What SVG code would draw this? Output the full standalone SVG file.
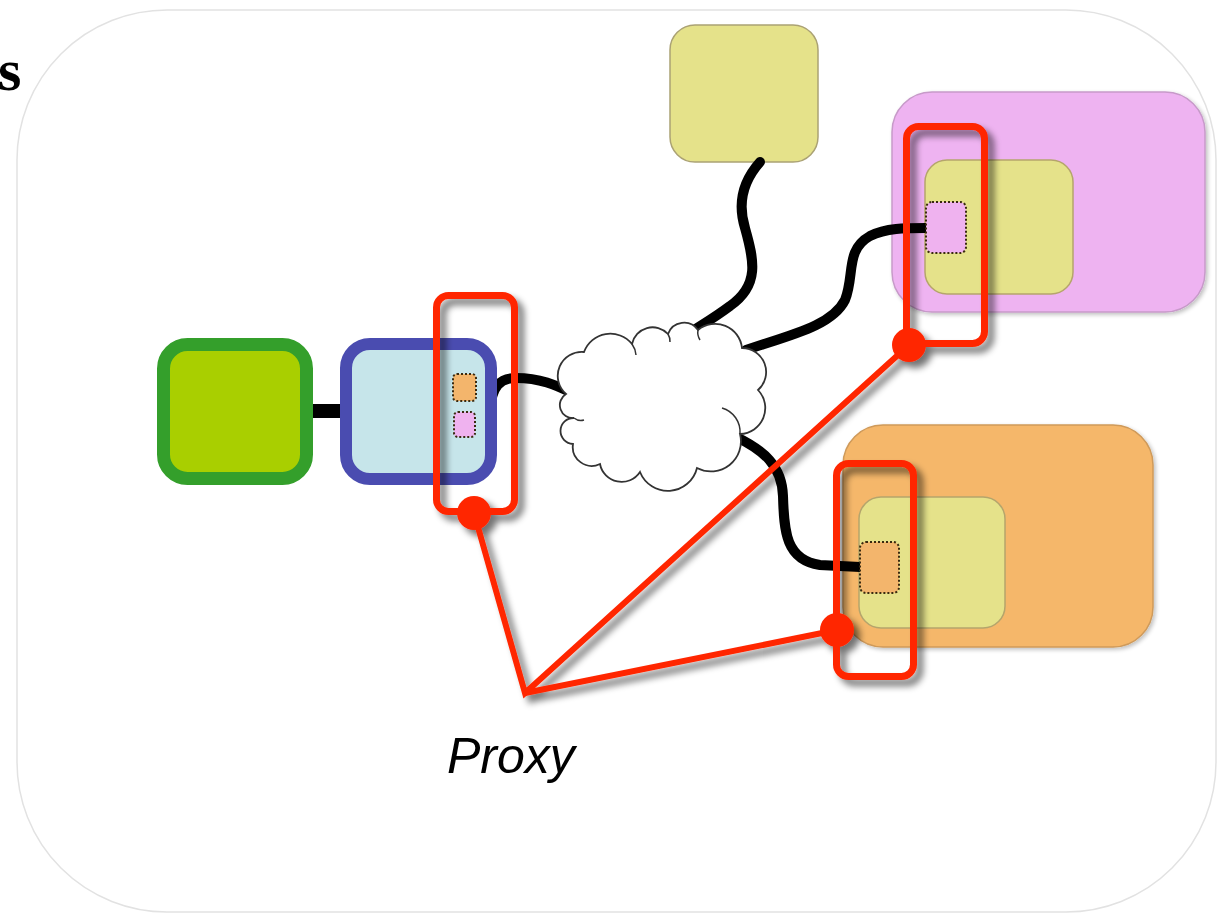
<svg xmlns="http://www.w3.org/2000/svg" width="1223" height="914" viewBox="0 0 1223 914">
  <defs>
    <filter id="redShadow" x="-20%" y="-20%" width="150%" height="150%">
      <feGaussianBlur in="SourceAlpha" stdDeviation="3.5"/>
      <feOffset dx="6" dy="6" result="b"/>
      <feComponentTransfer><feFuncA type="linear" slope="0.55"/></feComponentTransfer>
      <feMerge><feMergeNode/><feMergeNode in="SourceGraphic"/></feMerge>
    </filter>
    <filter id="softShadow" x="-10%" y="-10%" width="130%" height="130%">
      <feGaussianBlur in="SourceAlpha" stdDeviation="2"/>
      <feOffset dx="2" dy="2" result="b"/>
      <feComponentTransfer><feFuncA type="linear" slope="0.25"/></feComponentTransfer>
      <feMerge><feMergeNode/><feMergeNode in="SourceGraphic"/></feMerge>
    </filter>
  </defs>
  <style>
    .wire { fill: none; stroke: #000; stroke-width: 10; stroke-linecap: round; }
    .proxy { fill: none; stroke: #ff2600; stroke-width: 7; }
    .dot { fill: #ff2600; }
    .port { stroke: #3a2a10; stroke-width: 2; stroke-dasharray: 2 2; }
    .inner { fill: #e5e28a; stroke: #b5a56c; stroke-width: 1.5; }
  </style>

  <rect width="1223" height="914" fill="#fff"/>

  <!-- background panel -->
  <rect id="panel" x="17" y="10" width="1199" height="902" rx="150" fill="#fff" stroke="#e2e2e2" stroke-width="1.5"/>

  <!-- clipped title letter -->
  <text x="-2" y="90" font-family="Liberation Serif, serif" font-weight="bold" font-size="60" fill="#000">s</text>

  <!-- remote hosts -->
  <g id="host-pink" filter="url(#softShadow)">
    <rect x="892" y="92" width="313" height="220" rx="40" fill="#eeb3f1" stroke="#c79ac9" stroke-width="1.5"/>
    <rect class="inner" x="925" y="160" width="148" height="134" rx="22"/>
  </g>
  <g id="host-orange" filter="url(#softShadow)">
    <rect x="843" y="425" width="310" height="222" rx="40" fill="#f5b76a" stroke="#cf9a5a" stroke-width="1.5"/>
    <rect class="inner" x="859" y="497" width="146" height="131" rx="22"/>
  </g>
  <g id="node-top">
    <rect x="670" y="25" width="148" height="137" rx="25" fill="#e5e28a" stroke="#aba274" stroke-width="1.5"/>
  </g>

  <!-- connectors -->
  <g id="connectors">
    <line x1="310" y1="411" x2="344" y2="411" stroke="#000" stroke-width="14"/>
    <path class="wire" d="M490,410 C492,386 500,378 516,378 C540,378 556,385 572,393"/>
    <path class="wire" d="M760,162 C744,180 737,202 745,228 C754,260 760,285 730,306 C714,318 700,326 688,334"/>
    <path class="wire" d="M746,350 C790,335 832,326 845,300 C855,275 845,250 870,236 C886,228 905,228 926,228"/>
    <path class="wire" d="M734,436 C764,450 782,466 783,496 C784,532 786,560 820,565 L860,567"/>
  </g>

  <!-- local stack -->
  <g id="node-green">
    <rect x="163.5" y="344.5" width="143" height="134" rx="24" fill="#a9cf00" stroke="#349f2b" stroke-width="13"/>
  </g>
  <g id="node-blue">
    <rect x="346" y="344" width="145" height="135" rx="24" fill="#c6e5ea" stroke="#4a4cb0" stroke-width="12"/>
    <rect class="port" x="453" y="374" width="23" height="27" rx="4" fill="#f3b56c"/>
    <rect class="port" x="454" y="412" width="21" height="25" rx="4" fill="#efb2ef"/>
  </g>

  <!-- network cloud -->
  <g id="cloud">
    <path d="M566,394 A24,24 0 0 1 584,352 A28,28 0 0 1 632,344 A21,21 0 0 1 668,334 A17,17 0 0 1 698,330 A27,27 0 0 1 742,348 A24,24 0 0 1 758,390 A26,26 0 0 1 740,434 A30,30 0 0 1 697,468 A30,30 0 0 1 640,472 A22,22 0 0 1 600,464 A19,19 0 0 1 573,444 A13,13 0 0 1 574,418 A13,13 0 0 1 566,394 Z" fill="#fff" stroke="#333" stroke-width="1.8"/>
    <path d="M574,418 A11,11 0 0 0 584,420 M632,344 A22,22 0 0 1 636,355 M668,334 A14,14 0 0 1 670,342 M698,330 A14,14 0 0 0 700,340 M722,408 A25,25 0 0 1 740,434" fill="none" stroke="#333" stroke-width="1.5"/>
  </g>

  <!-- remote ports -->
  <g id="port-pink">
    <rect class="port" x="926" y="202" width="40" height="51" rx="6" fill="#efb2ef"/>
  </g>
  <g id="port-orange">
    <rect class="port" x="860" y="542" width="39" height="51" rx="6" fill="#f3b56c"/>
  </g>

  <!-- proxy highlights -->
  <g id="proxy" filter="url(#redShadow)">
    <rect class="proxy" x="436.5" y="295.5" width="78" height="216" rx="12"/>
    <rect class="proxy" x="906.5" y="126.5" width="78" height="217" rx="12"/>
    <rect class="proxy" x="836.5" y="463.5" width="77" height="213" rx="12"/>
    <polyline points="474,513 525,693 909,345" fill="none" stroke="#ff2600" stroke-width="6" stroke-linejoin="miter"/>
    <line x1="525" y1="693" x2="837" y2="630" stroke="#ff2600" stroke-width="6"/>
    <circle class="dot" cx="474" cy="513" r="17"/>
    <circle class="dot" cx="909" cy="345" r="17"/>
    <circle class="dot" cx="837" cy="630" r="17"/>
  </g>

  <text x="447" y="773" font-family="Liberation Sans, Arial, sans-serif" font-style="italic" font-size="50" fill="#000">Proxy</text>
</svg>
